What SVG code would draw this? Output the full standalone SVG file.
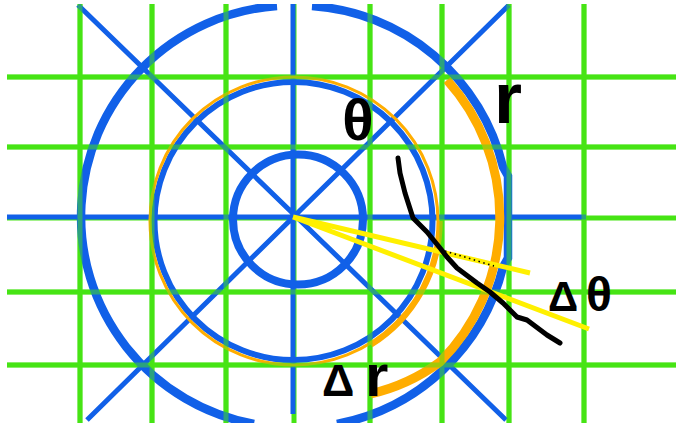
<svg xmlns="http://www.w3.org/2000/svg" xmlns:xlink="http://www.w3.org/1999/xlink" width="676" height="425" viewBox="0 0 676 425">
<defs>
<clipPath id="frame"><rect x="7" y="4" width="669" height="419"/></clipPath>
<style>
.g{stroke:#46e414;stroke-width:5;fill:none}
.b{stroke:#1160e8;fill:none}
.o{stroke:#ffad00;fill:none}
.y{stroke:#fff000;stroke-width:5;fill:none}
.k{stroke:#000;fill:none;stroke-linecap:round;stroke-linejoin:round}
text{font-family:"Liberation Sans",Arial,sans-serif;font-weight:bold;fill:#000}
</style>
<path id="gridpath" d="M80 4V423M152 4V423M226 4V423M370 4V423M442 4V423M509 4V423M584 4V423M7 77H676M7 147H676M7 292H676M7 365H676"/>
</defs>
<rect width="676" height="425" fill="#ffffff"/>
<g clip-path="url(#frame)">
  <g id="grid-under">
    <use xlink:href="#gridpath" class="g"/>
    <path class="g" d="M7 218H676M294 4V423"/>
  </g>
  <g id="circles">
    <path id="big-circle" class="b" stroke-width="8.5" d="M254 424A211 211 0 0 1 277 6M312 6A211 211 0 0 1 503 167L508 176L508 258L503 267A211 211 0 0 1 337 424"/>
    <circle id="mid-circle" class="b" stroke-width="6" cx="293.5" cy="221" r="139"/>
    <circle id="small-circle" class="b" stroke-width="8" cx="298" cy="219.5" r="65"/>
  </g>
  <g id="axes" class="b" stroke-width="5">
    <path d="M7 217H586M293 4V414M78 5L506 420M509 5L87 420"/>
  </g>
  <g id="orange-arcs">
    <circle id="orange-ring" class="o" stroke-width="3" cx="294" cy="221" r="144"/>
    <path class="o" stroke-width="5.5" d="M440 221A146 146 0 0 1 371 345"/>
    <path id="orange-dr" class="o" stroke-width="9" d="M447 80A205 205 0 0 1 440 362A190 190 0 0 1 370 394"/>
  </g>
  <g id="grid-over" opacity="0.5">
    <use xlink:href="#gridpath" class="g"/>
  </g>
  <g id="yellow-rays">
    <path class="y" d="M293 217L530 273M293 217L589 329"/>
  </g>
  <g id="black-curve">
    <path class="k" stroke-width="5" d="M398 158L400 173L405 193L413 218L427 232L440 248L447 257L457 268L477 283L490 292L503 303L517 317L527 320L547 335L560 343"/>
    <path stroke="#000" stroke-width="1.6" stroke-dasharray="1.5 3.5" fill="none" d="M445 251L494 266"/>
  </g>
</g>
<g id="label-theta"><text x="358" y="140" font-size="58" text-anchor="middle">θ</text></g>
<g id="label-r"><text x="508" y="123" font-size="72" text-anchor="middle">r</text></g>
<g id="label-dtheta"><text y="311"><tspan x="548" font-size="42">Δ</tspan><tspan x="586" font-size="48">θ</tspan></text></g>
<g id="label-dr"><text y="396"><tspan x="322" font-size="45">Δ</tspan><tspan x="365" font-size="60">r</tspan></text></g>
</svg>
